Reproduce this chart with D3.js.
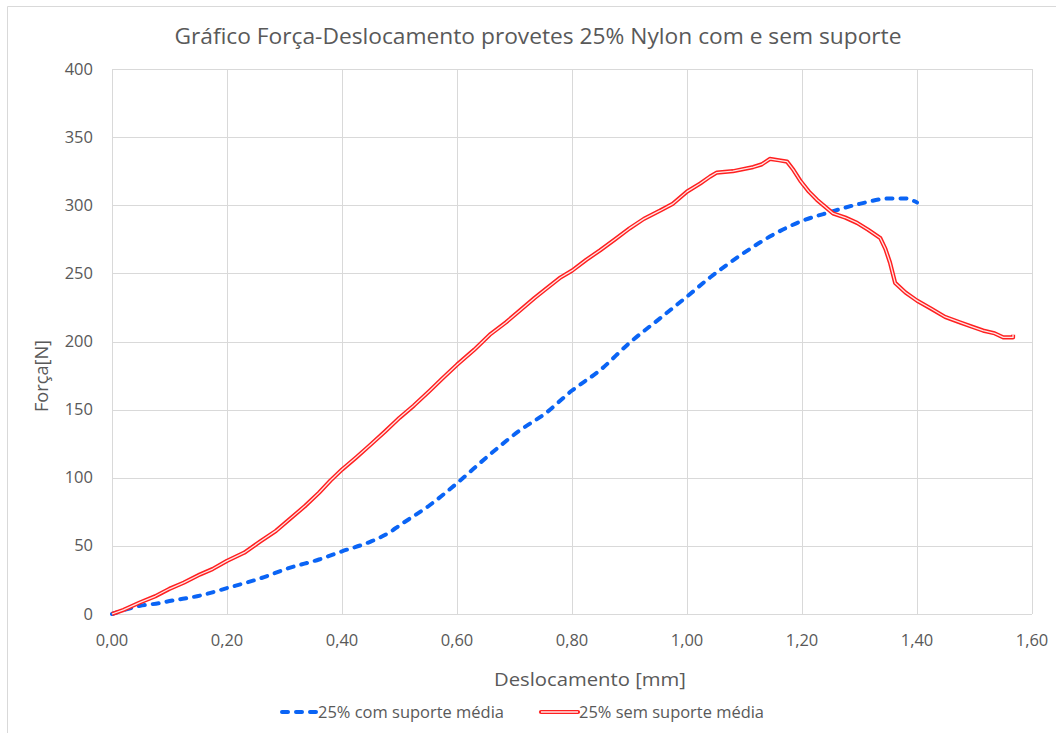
<!DOCTYPE html>
<html><head><meta charset="utf-8">
<script src="https://cdn.jsdelivr.net/npm/d3@7"></script>
<style>body{margin:0;background:#fff}svg{display:block}text{font-family:"Open Sans",sans-serif;fill:#595959}</style>
</head><body><svg id="c" width="1056" height="733"></svg>
<script>
const xTicks = [0,0.2,0.4,0.6,0.8,1.0,1.2,1.4,1.6];
const yTicks = [0,50,100,150,200,250,300,350,400];
const seriesNames = ["25% com suporte média","25% sem suporte média"];
// 25% com suporte média
const comX = [0,0.049,0.083,0.10,0.153,0.20,0.257,0.31,0.36,0.40,0.449,0.483,0.50,0.553,0.60,0.657,0.71,0.753,0.80,0.849,0.90,0.953,1.00,1.04,1.092,1.144,1.197,1.249,1.30,1.353,1.379,1.40];
const comY = [0,6,8,9.5,13.5,19,26,34,40,46,53,60,65,80,96,117,135,147,164,179,199,217,233,247,263,277,288,295,301,305,305,302];
// 25% sem suporte média
const semX = [0,0.02,0.049,0.075,0.10,0.125,0.153,0.175,0.20,0.23,0.257,0.285,0.31,0.335,0.36,0.38,0.40,0.425,0.449,0.475,0.50,0.525,0.553,0.575,0.60,0.63,0.657,0.685,0.71,0.735,0.753,0.78,0.80,0.825,0.849,0.875,0.90,0.925,0.953,0.975,1.00,1.023,1.04,1.052,1.08,1.115,1.13,1.144,1.16,1.174,1.185,1.197,1.212,1.226,1.254,1.275,1.296,1.315,1.336,1.345,1.353,1.362,1.38,1.40,1.425,1.449,1.475,1.495,1.515,1.535,1.55,1.567,1.567];
const semY = [0,3,8.5,13,18.5,23,29,33,39,45,53,61,70,79,89,98,106,115,124,134,144,153,164,173,183,194,205,214,223,232,238,247,252,260,267,275,283,290,296,301,310,316,321,324,325,328,330,334,333,332,326,318,310,304,294,291,287,282,276,268,258,243,236,230,224,218,214,211,208,206,203,203,205];

const svg = d3.select("#c");
const x = d3.scaleLinear().domain([0,1.6]).range([112,1032]);
const y = d3.scaleLinear().domain([0,400]).range([614,69]);
const fmt = d => d3.format(".2f")(d).replace(".", ",");

// chart frame (only left and top edges visible)
svg.append("path").attr("d","M7.5,733V6.5H1056").attr("fill","none").attr("stroke","#d9d9d9");

const g = svg.append("g");
g.selectAll("line.h").data(yTicks).join("line").attr("x1",x(0)).attr("x2",x(1.6))
  .attr("y1",d=>Math.round(y(d))+0.5).attr("y2",d=>Math.round(y(d))+0.5).attr("stroke","#d9d9d9");
g.selectAll("line.v").data(xTicks).join("line").attr("y1",y(0)).attr("y2",y(400))
  .attr("x1",d=>Math.round(x(d))+0.5).attr("x2",d=>Math.round(x(d))+0.5).attr("stroke","#d9d9d9");

g.selectAll("text.y").data(yTicks).join("text").attr("x",93).attr("y",d=>y(d)+5.5)
  .attr("text-anchor","end").attr("font-size",16.5).text(d=>d);
g.selectAll("text.x").data(xTicks).join("text").attr("x",d=>x(d)).attr("y",646)
  .attr("text-anchor","middle").attr("font-size",16.5).text(fmt);

svg.append("text").attr("x",538).attr("y",44).attr("text-anchor","middle").attr("font-size",22)
  .attr("textLength",727).attr("lengthAdjust","spacingAndGlyphs")
  .text("Gráfico Força-Deslocamento provetes 25% Nylon com e sem suporte");
svg.append("text").attr("x",590).attr("y",686).attr("text-anchor","middle").attr("font-size",18.5)
  .attr("textLength",192).attr("lengthAdjust","spacingAndGlyphs").text("Deslocamento  [mm]");
svg.append("text").attr("transform","translate(48,376) rotate(-90)").attr("text-anchor","middle")
  .attr("font-size",18.5).attr("textLength",72).attr("lengthAdjust","spacingAndGlyphs").text("Força[N]");

const line = d3.line().x(d=>x(d[0])).y(d=>y(d[1])).curve(d3.curveMonotoneX);
const com = comX.map((v,i)=>[v,comY[i]]);
const sem = semX.map((v,i)=>[v,semY[i]]);
const line2 = d3.line().x(d=>x(d[0])).y(d=>y(d[1]));

svg.append("path").attr("d",line(com)).attr("fill","none").attr("stroke","#0a64f5")
  .attr("stroke-width",4).attr("stroke-dasharray","6,8").attr("stroke-linecap","round");
svg.append("path").attr("d",line2(sem)).attr("fill","none").attr("stroke","#ff2020").attr("stroke-width",4.2).attr("stroke-linejoin","round");
svg.append("path").attr("d",line2(sem)).attr("fill","none").attr("stroke","#ffe6e6").attr("stroke-width",1.3).attr("stroke-linejoin","round");

// legend
const lg = svg.append("g");
lg.append("line").attr("x1",282).attr("x2",317).attr("y1",712).attr("y2",712).attr("stroke","#0a64f5")
  .attr("stroke-width",4).attr("stroke-dasharray","6,8").attr("stroke-linecap","round");
lg.append("text").attr("x",318).attr("y",718).attr("font-size",16.5).attr("textLength",186).attr("lengthAdjust","spacingAndGlyphs").text(seriesNames[0]);
lg.append("line").attr("x1",541).attr("x2",578).attr("y1",712).attr("y2",712).attr("stroke","#ff2020").attr("stroke-width",4.2).attr("stroke-linecap","round");
lg.append("line").attr("x1",541).attr("x2",578).attr("y1",712).attr("y2",712).attr("stroke","#ffe6e6").attr("stroke-width",1.3);
lg.append("text").attr("x",579).attr("y",718).attr("font-size",16.5).attr("textLength",185).attr("lengthAdjust","spacingAndGlyphs").text(seriesNames[1]);
</script></body></html>
